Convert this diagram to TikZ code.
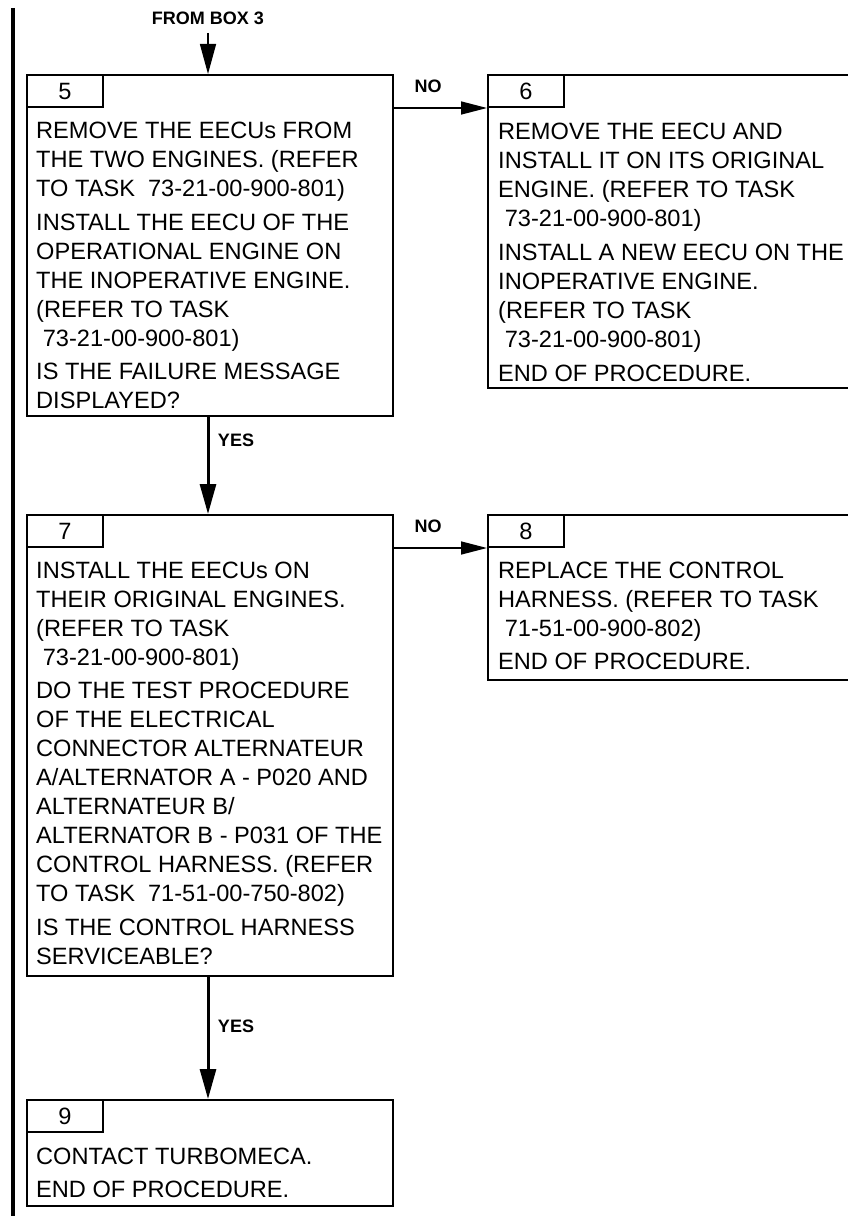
\documentclass[tikz,border=0pt]{standalone}
\usepackage{fontspec}
\setmainfont{Liberation Sans}
\usetikzlibrary{arrows.meta}
\begin{document}
\begin{tikzpicture}[x=1pt,y=-1pt,
  box/.style={draw=black, line width=2pt, inner sep=0pt, anchor=north west},
  tab/.style={draw=black, line width=2pt, inner sep=0pt, anchor=north west,
    minimum width=76pt, minimum height=32pt, font=\fontsize{23.6}{26}\selectfont},
  body/.style={anchor=base west, inner sep=0pt, font=\fontsize{23.6}{29}\selectfont},
  lbl/.style={inner sep=0pt, font=\fontsize{18}{20}\selectfont\bfseries},
  bigarrow/.style={line width=3pt, -{Triangle[length=30pt,width=16pt]}},
  thinarrow/.style={line width=1.5pt, -{Triangle[length=30pt,width=16pt]}},
  noarrow/.style={line width=1.5pt, -{Triangle[length=26pt,width=13pt]}}
]
\useasboundingbox (0,0) rectangle (847,1225);
\fill[white] (0,0) rectangle (847,1225);
% left change bar
\draw[line width=4pt] (12.5,8) -- (12.5,1216);

% boxes
\node[box, minimum width=366pt, minimum height=341pt] (b5) at (26,74) {};
\node[tab] (t5) at (26,74) {5};
\node[box, minimum width=373pt, minimum height=313pt] (b6) at (487,74) {};
\node[tab] (t6) at (487,74) {6};
\node[box, minimum width=366pt, minimum height=461pt] (b7) at (26,514) {};
\node[tab] (t7) at (26,514) {7};
\node[box, minimum width=373pt, minimum height=165pt] (b8) at (487,514) {};
\node[tab] (t8) at (487,514) {8};
\node[box, minimum width=366pt, minimum height=106pt] (b9) at (26,1099) {};
\node[tab] (t9) at (26,1099) {9};

% texts
\node[body] (x5) at (36,139) {\parbox[t]{420pt}{\raggedright
REMOVE THE EECUs FROM\\
THE TWO ENGINES. (REFER\\
TO TASK\ \ 73-21-00-900-801)\\[4.5pt]
INSTALL THE EECU OF THE\\
OPERATIONAL ENGINE ON\\
THE INOPERATIVE ENGINE.\\
(REFER TO TASK\\
\hspace*{0.28em}73-21-00-900-801)\\[4.5pt]
IS THE FAILURE MESSAGE\\
DISPLAYED?}};

\node[body] (x6) at (498,140) {\parbox[t]{420pt}{\raggedright
REMOVE THE EECU AND\\
INSTALL IT ON ITS ORIGINAL\\
ENGINE. (REFER TO TASK\\
\hspace*{0.28em}73-21-00-900-801)\\[4.5pt]
INSTALL A NEW EECU ON THE\\
INOPERATIVE ENGINE.\\
(REFER TO TASK\\
\hspace*{0.28em}73-21-00-900-801)\\[4.5pt]
END OF PROCEDURE.}};

\node[body] (x7) at (36,578) {\parbox[t]{420pt}{\raggedright
INSTALL THE EECUs ON\\
THEIR ORIGINAL ENGINES.\\
(REFER TO TASK\\
\hspace*{0.28em}73-21-00-900-801)\\[4.5pt]
DO THE TEST PROCEDURE\\
OF THE ELECTRICAL\\
CONNECTOR ALTERNATEUR\\
A/ALTERNATOR A - P020 AND\\
ALTERNATEUR B/\\
ALTERNATOR B - P031 OF THE\\
CONTROL HARNESS. (REFER\\
TO TASK\ \ 71-51-00-750-802)\\[4.5pt]
IS THE CONTROL HARNESS\\
SERVICEABLE?}};

\node[body] (x8) at (498,578) {\parbox[t]{420pt}{\raggedright
REPLACE THE CONTROL\\
HARNESS. (REFER TO TASK\\
\hspace*{0.28em}71-51-00-900-802)\\[4.5pt]
END OF PROCEDURE.}};

\node[body] (x9) at (36,1164) {\parbox[t]{420pt}{\raggedright
CONTACT TURBOMECA.\\[4.5pt]
END OF PROCEDURE.}};

% incoming
\node[lbl] (from) at (208,18) {FROM BOX 3};
\coordinate (fromend) at (208,33);
\draw[thinarrow] (fromend) -- (b5.north -| fromend);

% NO connectors
\draw[noarrow] (t5.south -| b5.east) -- (t6.south -| b6.west);
\node[lbl] (no1) at (428,86) {NO};
\draw[noarrow] (t7.south -| b7.east) -- (t8.south -| b8.west);
\node[lbl] (no2) at (428,526) {NO};

% YES connectors
\draw[bigarrow] (b5.south -| fromend) -- (b7.north -| fromend);
\node[lbl] (yes1) at (236,440) {YES};
\draw[bigarrow] (b7.south -| fromend) -- (b9.north -| fromend);
\node[lbl] (yes2) at (236,1026) {YES};
\end{tikzpicture}
\end{document}
